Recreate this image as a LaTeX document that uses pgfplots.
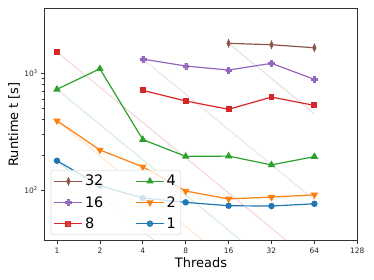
\documentclass[border=0pt]{standalone}
\usepackage{pgfplots}
\pgfplotsset{compat=1.18}
\usepackage{fontspec}
\setmainfont{DejaVu Sans}
\definecolor{tblue}{HTML}{1F77B4}
\definecolor{torange}{HTML}{FF7F0E}
\definecolor{tgreen}{HTML}{2CA02C}
\definecolor{tred}{HTML}{D62728}
\definecolor{tpurple}{HTML}{9467BD}
\definecolor{tbrown}{HTML}{8C564B}
\pgfdeclareplotmark{Pfill}{%
  \pgfpathmoveto{\pgfqpoint{-0.36\pgfplotmarksize}{\pgfplotmarksize}}%
  \pgfpathlineto{\pgfqpoint{0.36\pgfplotmarksize}{\pgfplotmarksize}}%
  \pgfpathlineto{\pgfqpoint{0.36\pgfplotmarksize}{0.36\pgfplotmarksize}}%
  \pgfpathlineto{\pgfqpoint{\pgfplotmarksize}{0.36\pgfplotmarksize}}%
  \pgfpathlineto{\pgfqpoint{\pgfplotmarksize}{-0.36\pgfplotmarksize}}%
  \pgfpathlineto{\pgfqpoint{0.36\pgfplotmarksize}{-0.36\pgfplotmarksize}}%
  \pgfpathlineto{\pgfqpoint{0.36\pgfplotmarksize}{-\pgfplotmarksize}}%
  \pgfpathlineto{\pgfqpoint{-0.36\pgfplotmarksize}{-\pgfplotmarksize}}%
  \pgfpathlineto{\pgfqpoint{-0.36\pgfplotmarksize}{-0.36\pgfplotmarksize}}%
  \pgfpathlineto{\pgfqpoint{-\pgfplotmarksize}{-0.36\pgfplotmarksize}}%
  \pgfpathlineto{\pgfqpoint{-\pgfplotmarksize}{0.36\pgfplotmarksize}}%
  \pgfpathlineto{\pgfqpoint{-0.36\pgfplotmarksize}{0.36\pgfplotmarksize}}%
  \pgfpathclose
  \pgfusepathqfillstroke}
\begin{document}
\begin{tikzpicture}
\path[use as bounding box] (-44.7bp,-39.3bp) rectangle (329.3bp,240.7bp);
\begin{axis}[
  scale only axis,
  width=312.6bp, height=232.7bp,
  xmode=log, log basis x=2, ymode=log,
  xmin=0.82, xmax=128, ymin=36.9, ymax=3597,
  xtick={1,2,4,8,16,32,64,128},
  xticklabels={1,2,4,8,16,32,64,128},
  ytick={100,1000},
  yticklabels={10\textsuperscript{2},10\textsuperscript{3}},
  minor tick num=0,
  minor ytick={},
  xtick pos=bottom, ytick pos=left,
  tick align=outside,
  major tick length=3.5bp,
  tick style={line width=0.6pt, black!80},
  axis line style={line width=0.8pt, black!80},
  tick label style={font=\fontsize{7.5}{9}\selectfont, text=black!85},
  xlabel={Threads},
  ylabel={Runtime t [s]},
  label style={font=\fontsize{13}{15}\selectfont},
  xlabel style={at={(axis description cs:0.5,-0.096)}, anchor=center},
  ylabel style={at={(axis description cs:-0.098,0.5)}, anchor=center, rotate=0},
  unbounded coords=jump,
  legend columns=2,
  legend cell align=left,
  legend style={at={(axis description cs:0.019,0.0245)}, anchor=south west,
    font=\fontsize{14.5}{16}\selectfont,
    draw=black!20, rounded corners=2.5pt, fill=white, fill opacity=0.8,
    draw opacity=1, text opacity=1, inner xsep=3pt, inner ysep=3pt,
    /tikz/every even column/.append style={column sep=30bp},
    /tikz/every row/.append style={row sep=5bp},
    row sep=5bp},
  legend image code/.code={\draw[mark repeat=2,mark phase=2] plot coordinates {(0bp,0bp) (14bp,0bp) (28bp,0bp)};},
  every axis plot/.append style={line width=1.2pt},
]
% ideal scaling lines
\addplot[tbrown, opacity=0.2, line width=1pt, forget plot] coordinates {(16,1795) (64,448.75)};
\addplot[tpurple, opacity=0.2, line width=1pt, forget plot] coordinates {(4,1317) (64,82.3)};
\addplot[tred, opacity=0.2, line width=1pt, forget plot] coordinates {(1,1512) (64,23.6)};
\addplot[tgreen, opacity=0.2, line width=1pt, forget plot] coordinates {(1,726) (64,11.34)};
\addplot[torange, opacity=0.2, line width=1pt, forget plot] coordinates {(1,391) (64,6.11)};
\addplot[tblue, opacity=0.2, line width=1pt, forget plot] coordinates {(1,178) (64,2.78)};
% data
\addplot[tbrown, mark=diamond*, mark size=3.2pt, mark options={xscale=0.6, fill=tbrown}] coordinates {(16,1795) (32,1746) (64,1644)};
\addlegendentry{32}
\addplot[tgreen, mark=triangle*, mark size=3.2pt, mark options={fill=tgreen}] coordinates {(1,726) (2,1088) (4,270) (8,194) (16,195) (32,164) (64,193)};
\addlegendentry{4}
\addplot[tpurple, mark=Pfill, mark size=2.9pt, mark options={fill=tpurple, line width=0.3pt}] coordinates {(4,1317) (8,1148) (16,1061) (32,1210) (64,883)};
\addlegendentry{16}
\addplot[torange, mark=triangle*, mark size=3.2pt, mark options={rotate=180, fill=torange}] coordinates {(1,391) (2,220) (4,158) (8,98) (16,84) (32,87) (64,91)};
\addlegendentry{2}
\addplot[tred, mark=square*, mark size=2.4pt, mark options={fill=tred}] coordinates {(1,1512) (2,nan) (4,711) (8,577) (16,490) (32,623) (64,529)};
\addlegendentry{8}
\addplot[tblue, mark=*, mark size=2.6pt, mark options={fill=tblue}] coordinates {(1,178) (2,109) (4,85.5) (8,78.5) (16,73.4) (32,73) (64,76.3)};
\addlegendentry{1}
\end{axis}
\end{tikzpicture}
\end{document}
